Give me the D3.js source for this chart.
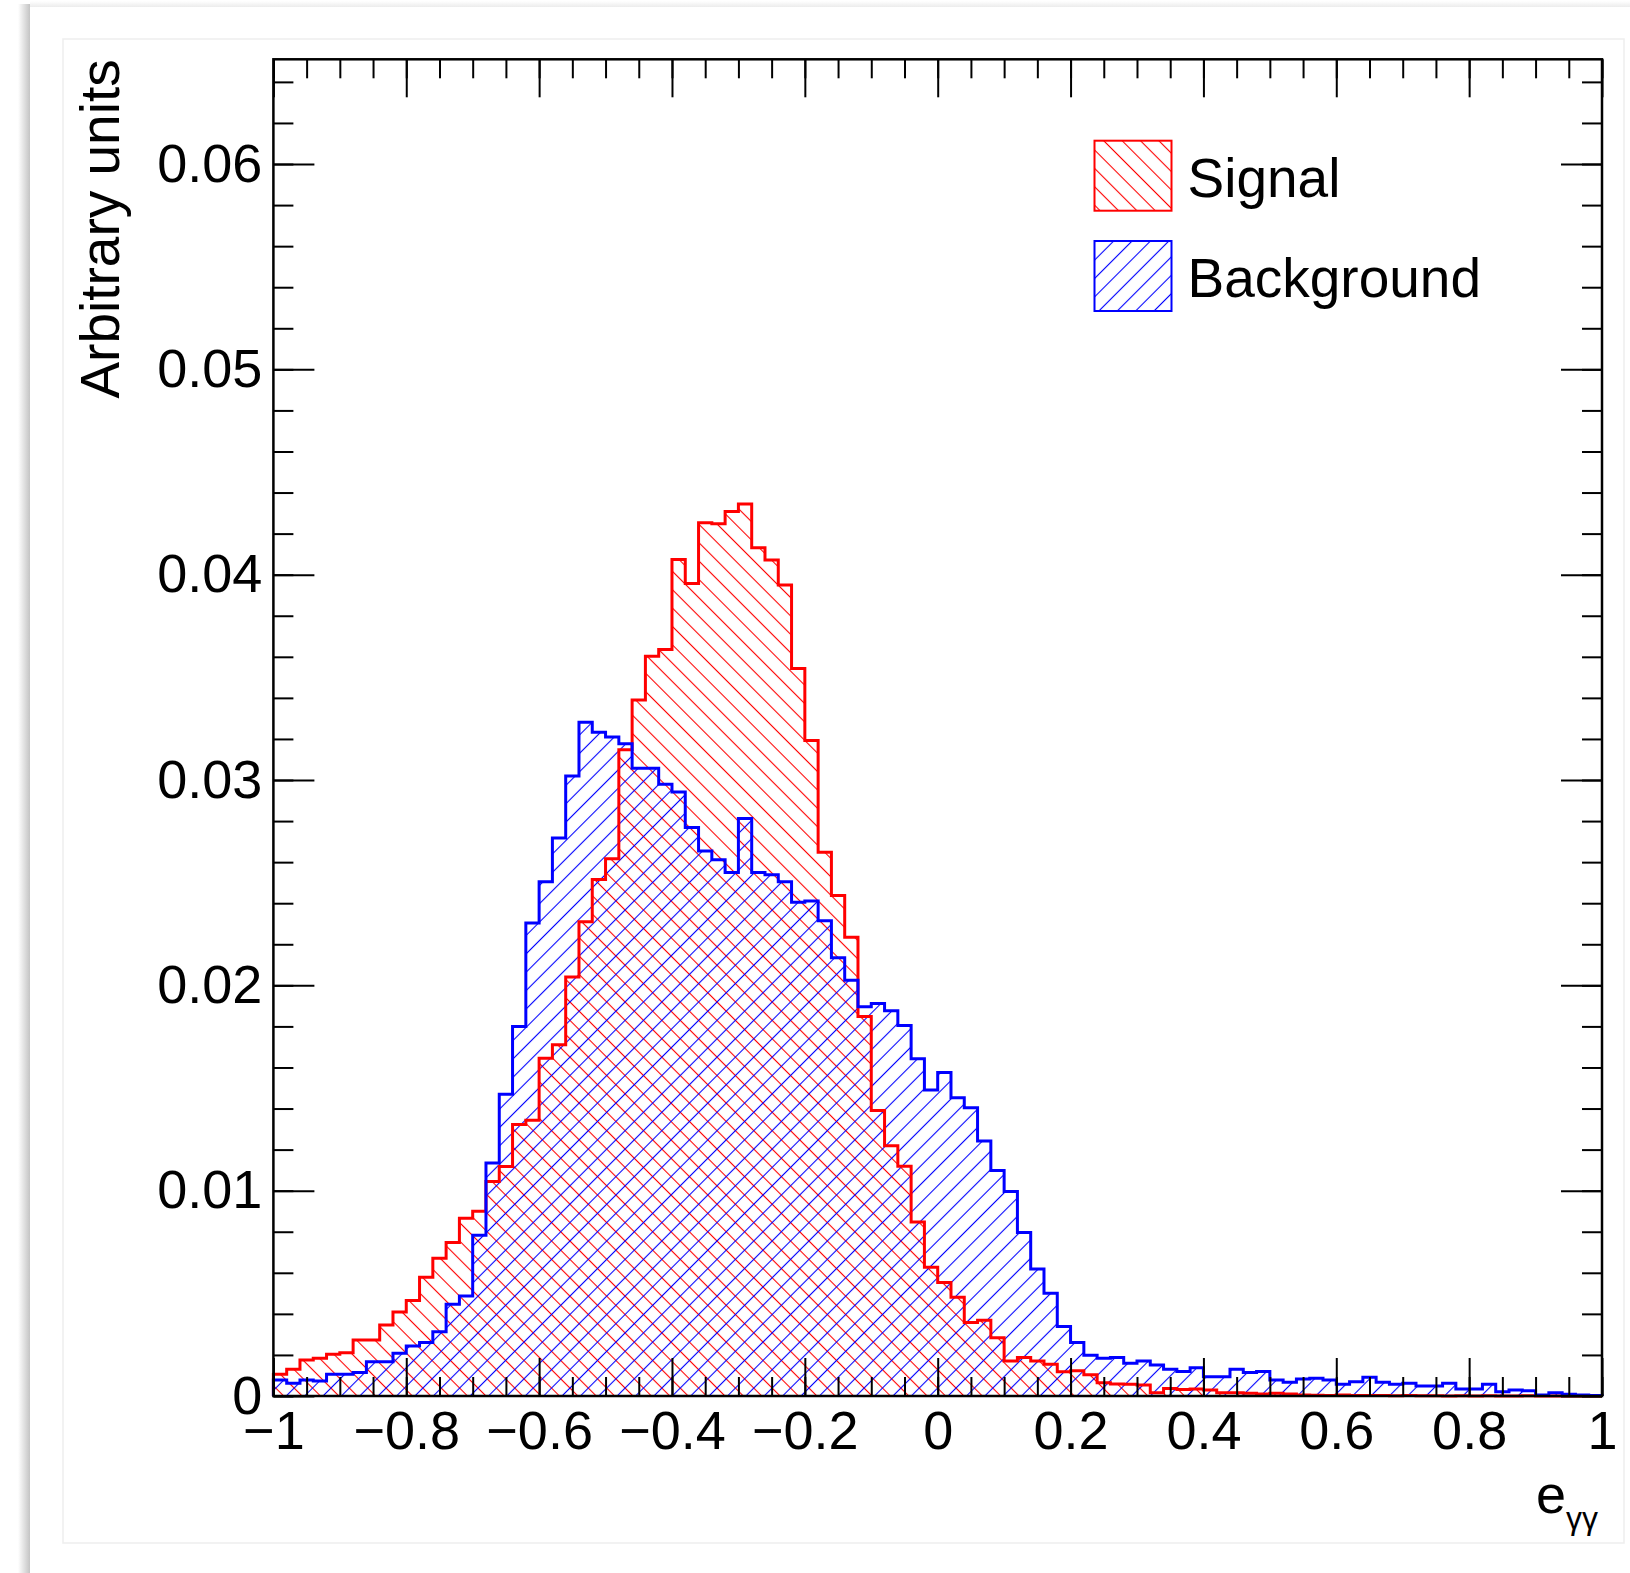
<!DOCTYPE html>
<html>
<head>
<meta charset="utf-8">
<script src="https://cdn.jsdelivr.net/npm/d3@7"></script>
<style>
  body { margin: 0; background: #fff; }
  text { font-family: "Liberation Sans", Arial, Helvetica, sans-serif; fill: #000; }
</style>
</head>
<body>
<script>
// histogram range (100 bins between -1 and 1)
const binLow = -1, binHigh = 1;

// signal, normalised bin contents
const signal = [
  0.00106, 0.00130, 0.00175, 0.00184, 0.00203, 0.00211, 0.00273, 0.00273, 0.00346, 0.00409,
  0.00465, 0.00578, 0.00671, 0.00747, 0.00866, 0.00900, 0.01045, 0.01118, 0.01322, 0.01343,
  0.01645, 0.01711, 0.02041, 0.02310, 0.02516, 0.02616, 0.03147, 0.03390, 0.03603, 0.03635,
  0.04074, 0.03957, 0.04253, 0.04248, 0.04308, 0.04344, 0.04131, 0.04071, 0.03950, 0.03543,
  0.03192, 0.02648, 0.02437, 0.02234, 0.01848, 0.01390, 0.01219, 0.01119, 0.00847, 0.00627,
  0.00553, 0.00481, 0.00358, 0.00369, 0.00284, 0.00170, 0.00187, 0.00170, 0.00155, 0.00118,
  0.00123, 0.00104, 0.00064, 0.00058, 0.00057, 0.00054, 0.00016, 0.00037, 0.00032, 0.00034,
  0.00029, 0.00016, 0.00016, 0.00013, 0.00010, 0.00013, 0.00010, 0.00005, 0.00004, 0.00003,
  0.00005, 0.00002, 0.00003, 0.00002, 0.00001, 0.00002, 0.00001, 0.00001, 0.00000, 0.00001,
  0.00000, 0.00001, 0.00000, 0.00000, 0.00001, 0.00000, 0.00000, 0.00000, 0.00000, 0.00000
];

// background, normalised bin contents
const background = [
  0.00078, 0.00062, 0.00078, 0.00073, 0.00106, 0.00106, 0.00114, 0.00167, 0.00167, 0.00208,
  0.00244, 0.00260, 0.00313, 0.00447, 0.00487, 0.00783, 0.01135, 0.01470, 0.01800, 0.02303,
  0.02505, 0.02717, 0.03020, 0.03281, 0.03232, 0.03210, 0.03176, 0.03057, 0.03057, 0.02979,
  0.02941, 0.02769, 0.02654, 0.02612, 0.02549, 0.02813, 0.02549, 0.02538, 0.02504, 0.02405,
  0.02411, 0.02314, 0.02134, 0.02025, 0.01896, 0.01911, 0.01876, 0.01805, 0.01642, 0.01490,
  0.01576, 0.01453, 0.01404, 0.01242, 0.01098, 0.00996, 0.00796, 0.00618, 0.00501, 0.00338,
  0.00261, 0.00198, 0.00184, 0.00187, 0.00159, 0.00171, 0.00151, 0.00130, 0.00119, 0.00138,
  0.00094, 0.00094, 0.00130, 0.00115, 0.00119, 0.00078, 0.00067, 0.00083, 0.00086, 0.00078,
  0.00057, 0.00070, 0.00091, 0.00067, 0.00057, 0.00062, 0.00049, 0.00049, 0.00062, 0.00034,
  0.00034, 0.00057, 0.00021, 0.00029, 0.00026, 0.00005, 0.00016, 0.00008, 0.00005, 0.00002
];

const seriesNames = ["Signal", "Background"];
const seriesColors = ["#ff0000", "#0000ff"];

// tick labels
const xTicks = [-1, -0.8, -0.6, -0.4, -0.2, 0, 0.2, 0.4, 0.6, 0.8, 1];
const yTicks = [0, 0.01, 0.02, 0.03, 0.04, 0.05, 0.06];
const yMax = 0.0651;

const W = 1630, H = 1573;
const frame = {left: 273.4, right: 1602, top: 59.3, bottom: 1396};

const svg = d3.select("body").append("svg")
  .attr("width", W)
  .attr("height", H);

const defs = svg.append("defs");

// page card: faint shadow on the left and top
const shadow = defs.append("linearGradient").attr("id", "shadowL");
shadow.append("stop").attr("offset", "0%").attr("stop-color", "#fff");
shadow.append("stop").attr("offset", "100%").attr("stop-color", "#c4c4c4");
const shadowT = defs.append("linearGradient").attr("id", "shadowT")
  .attr("x1", 0).attr("y1", 0).attr("x2", 0).attr("y2", 1);
shadowT.append("stop").attr("offset", "0%").attr("stop-color", "#fff");
shadowT.append("stop").attr("offset", "100%").attr("stop-color", "#ececec");

svg.append("rect").attr("x", 18).attr("y", 4).attr("width", 12).attr("height", H - 4)
  .attr("fill", "url(#shadowL)");
svg.append("rect").attr("x", 30).attr("y", 1).attr("width", W - 30).attr("height", 6)
  .attr("fill", "url(#shadowT)");
svg.append("rect").attr("x", 63).attr("y", 39).attr("width", 1561).attr("height", 1504)
  .attr("fill", "none").attr("stroke", "#eeeeee").attr("stroke-width", 1.5);

// hatch patterns: "\" for signal, "/" for background
function hatch(id, color, angle) {
  const p = defs.append("pattern")
    .attr("id", id)
    .attr("patternUnits", "userSpaceOnUse")
    .attr("width", 13)
    .attr("height", 13)
    .attr("patternTransform", "rotate(" + angle + ")");
  p.append("line")
    .attr("x1", 6.5).attr("y1", -1)
    .attr("x2", 6.5).attr("y2", 14)
    .attr("stroke", color)
    .attr("stroke-width", 1.1);
}
hatch("hatchSig", seriesColors[0], -45);
hatch("hatchBkg", seriesColors[1], 45);
const fills = ["url(#hatchSig)", "url(#hatchBkg)"];

let xScale = d3.scaleLinear()
  .domain([binLow, binHigh])
  .range([frame.left, frame.right]);

let yScale = d3.scaleLinear()
  .domain([0, yMax])
  .range([frame.bottom, frame.top]);

// step outline of a histogram
function stepPath(values) {
  const n = values.length;
  const w = (binHigh - binLow) / n;
  const p = d3.path();
  p.moveTo(xScale(binLow), yScale(0));
  values.forEach(function(v, i) {
    p.lineTo(xScale(binLow + i * w), yScale(v));
    p.lineTo(xScale(binLow + (i + 1) * w), yScale(v));
  });
  p.lineTo(xScale(binHigh), yScale(0));
  return p.toString();
}

const hists = [signal, background];

// fills
hists.forEach(function(h, k) {
  svg.append("path")
    .attr("d", stepPath(h) + "Z")
    .attr("fill", fills[k])
    .attr("stroke", "none");
});

// outlines (background on top)
hists.forEach(function(h, k) {
  svg.append("path")
    .attr("d", stepPath(h))
    .attr("fill", "none")
    .attr("stroke", seriesColors[k])
    .attr("stroke-width", 3)
    .attr("stroke-linejoin", "miter");
});

// ticks
const xMinor = d3.range(0, 41).map(function(i) { return binLow + i * 0.05; });
const yMinor = d3.range(0, 33).map(function(i) { return i * 0.002; });
const fmt = d3.format("~g");

function styleAxis(g) {
  g.select(".domain").remove();
  g.selectAll("line").attr("stroke", "#000").attr("stroke-width", 2);
}

svg.append("g")
  .attr("transform", "translate(0," + frame.bottom + ")")
  .call(d3.axisBottom(xScale).tickValues(xMinor).tickSize(-19).tickFormat(""))
  .call(styleAxis);
svg.append("g")
  .attr("transform", "translate(0," + frame.bottom + ")")
  .call(d3.axisBottom(xScale).tickValues(xTicks).tickSize(-38).tickPadding(15).tickFormat(fmt))
  .call(styleAxis)
  .call(function(g) {
    g.selectAll("text").attr("font-size", 54).attr("fill", "#000")
      .style("font-family", "'Liberation Sans', Arial, sans-serif");
  });
svg.append("g")
  .attr("transform", "translate(0," + frame.top + ")")
  .call(d3.axisTop(xScale).tickValues(xMinor).tickSize(-19).tickFormat(""))
  .call(styleAxis);
svg.append("g")
  .attr("transform", "translate(0," + frame.top + ")")
  .call(d3.axisTop(xScale).tickValues(xTicks).tickSize(-38).tickFormat(""))
  .call(styleAxis);

svg.append("g")
  .attr("transform", "translate(" + frame.left + ",0)")
  .call(d3.axisLeft(yScale).tickValues(yMinor).tickSize(-20).tickFormat(""))
  .call(styleAxis);
svg.append("g")
  .attr("transform", "translate(" + frame.left + ",0)")
  .call(d3.axisLeft(yScale).tickValues(yTicks).tickSize(-41).tickPadding(11).tickFormat(fmt))
  .call(styleAxis)
  .call(function(g) {
    g.selectAll("text").attr("font-size", 54).attr("fill", "#000")
      .style("font-family", "'Liberation Sans', Arial, sans-serif");
  });
svg.append("g")
  .attr("transform", "translate(" + frame.right + ",0)")
  .call(d3.axisRight(yScale).tickValues(yMinor).tickSize(-20).tickFormat(""))
  .call(styleAxis);
svg.append("g")
  .attr("transform", "translate(" + frame.right + ",0)")
  .call(d3.axisRight(yScale).tickValues(yTicks).tickSize(-41).tickFormat(""))
  .call(styleAxis);

// frame
svg.append("rect")
  .attr("x", frame.left)
  .attr("y", frame.top)
  .attr("width", frame.right - frame.left)
  .attr("height", frame.bottom - frame.top)
  .attr("fill", "none")
  .attr("stroke", "#000")
  .attr("stroke-width", 2.5);

// axis labels
svg.append("text")
  .attr("transform", "translate(119," + frame.top + ") rotate(-90)")
  .attr("text-anchor", "end")
  .attr("font-size", 55)
  .text("Arbitrary units");

const xTitle = svg.append("text")
  .attr("x", 1598)
  .attr("y", 1513)
  .attr("text-anchor", "end");
xTitle.append("tspan").attr("font-size", 54).text("e");
xTitle.append("tspan").attr("font-size", 32).attr("dy", 16).text("\u03b3\u03b3");

// legend
const legend = svg.append("g").attr("transform", "translate(1094.5,140.7)");
seriesNames.forEach(function(name, k) {
  legend.append("rect")
    .attr("x", 0)
    .attr("y", k * 100.3)
    .attr("width", 77)
    .attr("height", 70)
    .attr("fill", fills[k])
    .attr("stroke", seriesColors[k])
    .attr("stroke-width", 2);
  legend.append("text")
    .attr("x", 93)
    .attr("y", k * 100.3 + 56.5)
    .attr("font-size", 55)
    .text(name);
});
</script>
</body>
</html>
